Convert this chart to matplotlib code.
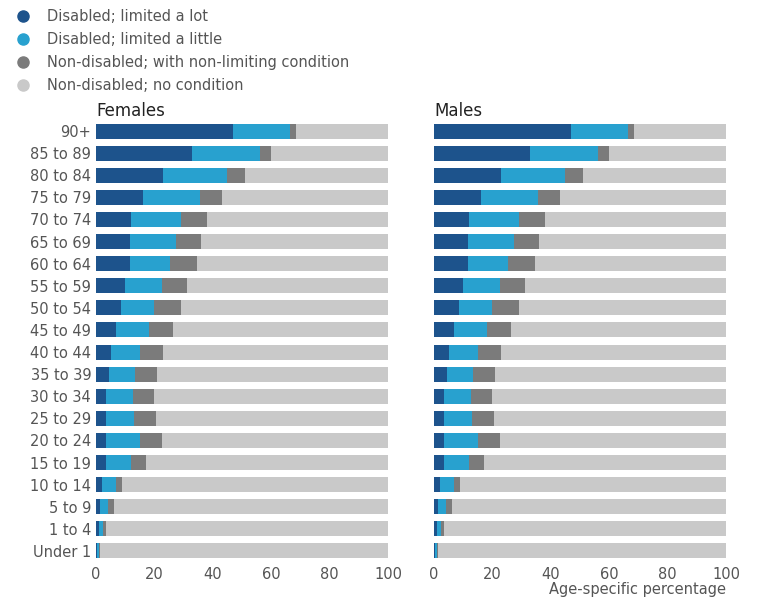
import matplotlib
matplotlib.use("Agg")
import matplotlib.pyplot as plt
import numpy as np
from matplotlib.lines import Line2D

ages = ["90+","85 to 89","80 to 84","75 to 79","70 to 74","65 to 69","60 to 64","55 to 59",
        "50 to 54","45 to 49","40 to 44","35 to 39","30 to 34","25 to 29","20 to 24",
        "15 to 19","10 to 14","5 to 9","1 to 4","Under 1"]
f_lot    = [47,33,23,16,12,11.5,11.5,10,8.5,7,5,4.5,3.5,3.5,3.5,3.5,2,1.5,1,0.5]
f_little = [19.5,23,22,19.5,17,16,14,12.5,11.5,11,10,9,9,9.5,11.5,8.5,5,2.5,1.5,0.5]
f_nonlim = [2,4,6,7.5,9,8.5,9,8.5,9,8.5,8,7.5,7.5,7.5,7.5,5,2,2,1,0.5]
m_lot    = [47,33,23,16,12,11.5,11.5,10,8.5,7,5,4.5,3.5,3.5,3.5,3.5,2,1.5,1,0.5]
m_little = [19.5,23,22,19.5,17,16,14,12.5,11.5,11,10,9,9,9.5,11.5,8.5,5,2.5,1.5,0.5]
m_nonlim = [2,4,6,7.5,9,8.5,9,8.5,9,8.5,8,7.5,7.5,7.5,7.5,5,2,2,1,0.5]
labels = ["Disabled; limited a lot","Disabled; limited a little",
          "Non-disabled; with non-limiting condition","Non-disabled; no condition"]
colors = ["#1d538c","#28a1cf","#7b7b7b","#c9c9c9"]

fig = plt.figure(figsize=(7.75,6.06), dpi=100)
axes = [fig.add_axes([96/775, 1-562/606, 292/775, 442/606]),
        fig.add_axes([434/775, 1-562/606, 292/775, 442/606])]
y = np.arange(len(ages))
for ax, (a,b,c), title in zip(axes, [(f_lot,f_little,f_nonlim),(m_lot,m_little,m_nonlim)], ["Females","Males"]):
    a=np.array(a); b=np.array(b); c=np.array(c)
    d = 100-a-b-c
    left = np.zeros(len(ages))
    for vals,col in zip([a,b,c,d],colors):
        ax.barh(y, vals, left=left, color=col, height=0.68)
        left = left+vals
    ax.set_ylim(len(ages)-0.5,-0.5)
    ax.set_xlim(0,100)
    ax.set_xticks([0,20,40,60,80,100])
    for s in ax.spines.values(): s.set_visible(False)
    ax.tick_params(length=0, colors="#555555", labelsize=10.5)
    ax.set_title(title, loc="left", fontsize=12, color="#222222", pad=2)
    if title=="Females":
        ax.set_yticks(y); ax.set_yticklabels(ages)
    else:
        ax.set_yticks([])
        ax.set_xlabel("Age-specific percentage", color="#555555", fontsize=10.5, loc="right", labelpad=0)
handles = [Line2D([],[],marker="o",linestyle="",color=c,markersize=8) for c in colors]
fig.legend(handles, labels, loc="upper left", bbox_to_anchor=(0.0,1.0), frameon=False,
           fontsize=10.5, labelcolor="#555555", handletextpad=0.6, labelspacing=0.55, borderaxespad=0.2)
fig.savefig("out.png", dpi=100)
